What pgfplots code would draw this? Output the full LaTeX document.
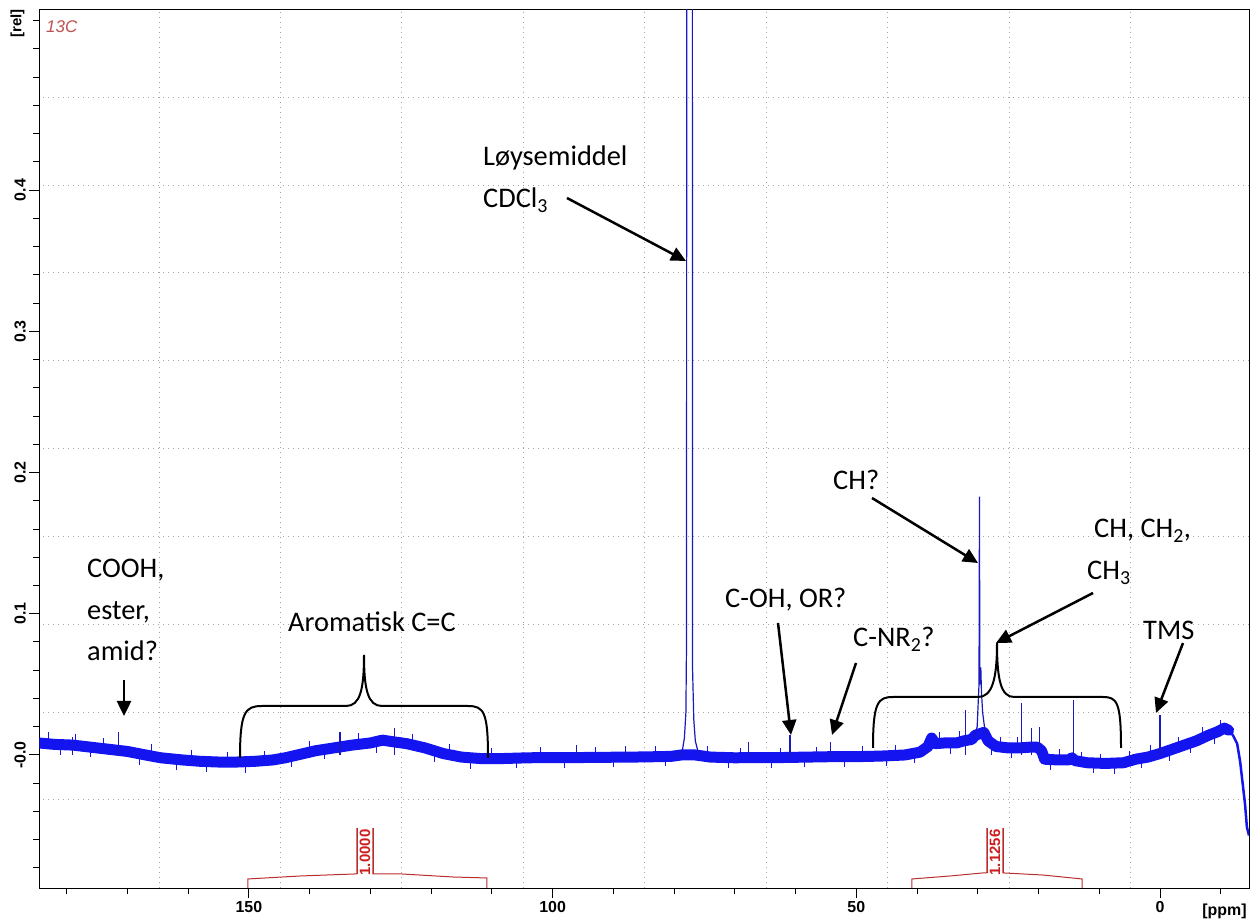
\documentclass[border=0pt]{standalone}
\usepackage{pgfplots}
\pgfplotsset{compat=1.18}
\usepackage{fontspec}
\setmainfont{Carlito}
\newfontfamily\arialf{Liberation Sans}
\usetikzlibrary{arrows.meta}
\definecolor{specblue}{RGB}{20,20,240}
\definecolor{spikeblue}{RGB}{25,25,190}
\definecolor{intred}{RGB}{185,45,45}
\definecolor{labred}{RGB}{205,30,30}
\definecolor{cred}{RGB}{190,80,80}
\definecolor{gridgray}{RGB}{165,165,165}
\begin{document}
\begin{tikzpicture}
\begin{axis}[
  scale only axis, width=1209.7bp, height=878.7bp,
  x dir=reverse, xmin=-14.65, xmax=184.5, ymin=-0.0942, ymax=0.528,
  axis line style={line width=1bp,black},
  tick align=outside, xtick pos=left, ytick pos=left,
  major tick length=10bp, minor tick length=6bp,
  every tick/.style={black, line width=1bp},
  xtick={0,50,100,150}, xticklabels={0,50,100,150},
  minor xtick={-10,0,10,20,30,40,50,60,70,80,90,100,110,120,130,140,150,160,170,180},
  ytick={0,0.1,0.2,0.3,0.4}, yticklabels={-0.0,0.1,0.2,0.3,0.4},
  minor ytick={-0.08,-0.06,-0.04,-0.02,0,0.02,0.04,0.06,0.08,0.1,0.12,0.14,0.16,0.18,0.2,0.22,0.24,0.26,0.28,0.3,0.32,0.34,0.36,0.38,0.4,0.42,0.44,0.46,0.48,0.5,0.52},
  tick label style={font=\arialf\bfseries\fontsize{16}{18}\selectfont},
  yticklabel style={rotate=90, anchor=south},
  xticklabel style={anchor=north},
  extra x ticks={164.8,144.8,124.8,104.8,84.8,64.8,44.8,24.8,4.8},
  extra x tick labels={},
  extra x tick style={grid=major, major tick length=0pt},
  extra y ticks={-0.0318,0.0304,0.0926,0.1548,0.217,0.2792,0.3414,0.4036,0.4658},
  extra y tick labels={},
  extra y tick style={grid=major, major tick length=0pt},
  major grid style={gridgray, line width=0.9bp, dash pattern=on 1bp off 4bp},
  unbounded coords=jump,
]
% baseline (noise band)
\addplot[specblue, line width=11bp, line join=round, line cap=round] coordinates {
(184.6,0.0085)(182,0.0075)(179,0.007)(176,0.0055)(173,0.004)(170,0.0025)(167,0.0)(164.5,-0.002)(161,-0.0035)(158,-0.0045)(155,-0.005)(152,-0.005)(149,-0.0045)(146,-0.0035)(144,-0.002)(141.5,0.0005)(139,0.003)(136,0.005)(133,0.007)(130,0.0085)(128,0.0105)(126.5,0.0095)(124,0.008)(121,0.005)(118,0.001)(115,-0.0015)(112,-0.0025)(108,-0.0025)(104,-0.002)(100,-0.0018)(95,-0.0018)(90,-0.0016)(85,-0.0014)(80.5,-0.001)(78.8,0.0)(76.5,0.0)(74,-0.0015)(70,-0.002)(66,-0.0018)(62,-0.0018)(58,-0.0015)(54,-0.0012)(50,-0.0012)(46,-0.0008)(42,0.0)(39.5,0.002)(38.2,0.006)(37.6,0.012)(37.0,0.008)(35.5,0.0085)(33.5,0.0085)(32.3,0.010)(31.0,0.011)(30.4,0.014)(29.0,0.016)(28.3,0.01)(27,0.006)(25,0.005)(23,0.005)(21.5,0.0055)(20.2,0.0055)(19.5,0.003)(19.0,-0.003)(17,-0.0035)(15,-0.0035)(14.5,-0.002)(14.0,-0.004)(12,-0.0055)(9,-0.006)(6,-0.0055)(4,-0.003)(2,-0.0015)(0,0.001)(-2,0.004)(-4,0.007)(-6,0.010)(-8,0.014)(-9.5,0.0165)(-10.6,0.019)(-11.3,0.0175)};
% tail
\addplot[specblue, line width=2.5bp, line join=round] coordinates {
(-11.3,0.0175)(-12.0,0.014)(-12.7,0.008)(-13.2,-0.005)(-13.6,-0.02)(-14.0,-0.035)(-14.3,-0.051)(-14.65,-0.057)};
% noise sticks above and below the band
\addplot[specblue, line width=0.9bp] coordinates {
(183,0.008)(183,0.016)(183,nan)(181,0.0075)(181,0.0)(181,nan)(178.5,0.0068)(178.5,0.0145)(178.5,nan)
(176,0.0055)(176,-0.0015)(176,nan)(174,0.0045)(174,0.012)(174,nan)(168,0.001)(168,-0.007)(168,nan)
(166,0.0)(166,0.0075)(166,nan)(162,-0.003)(162,-0.0105)(162,nan)(159.5,-0.004)(159.5,0.0035)(159.5,nan)
(157,-0.0045)(157,-0.012)(157,nan)(153.5,-0.005)(153.5,0.002)(153.5,nan)(150.5,-0.005)(150.5,-0.0125)(150.5,nan)
(147.5,-0.004)(147.5,0.003)(147.5,nan)(143,-0.001)(143,-0.0085)(143,nan)(140,0.002)(140,0.010)(140,nan)
(137.5,0.004)(137.5,-0.003)(137.5,nan)(132,0.0075)(132,0.0155)(132,nan)(129,0.0095)(129,0.0015)(129,nan)
(123,0.007)(123,0.015)(123,nan)(119.5,0.003)(119.5,-0.005)(119.5,nan)(117,0.0)(117,0.008)(117,nan)
(113.5,-0.002)(113.5,-0.010)(113.5,nan)(110,-0.0025)(110,0.005)(110,nan)(106,-0.0022)(106,-0.0095)(106,nan)
(102,-0.002)(102,0.0055)(102,nan)(98,-0.0018)(98,-0.009)(98,nan)(93,-0.0017)(93,0.0055)(93,nan)
(90,-0.0016)(90,-0.0085)(90,nan)(83,-0.0012)(83,0.006)(83,nan)(81.5,-0.001)(81.5,-0.008)(81.5,nan)
(74.5,-0.0013)(74.5,0.006)(74.5,nan)(71,-0.002)(71,-0.009)(71,nan)(69,-0.002)(69,0.005)(69,nan)
(64,-0.0018)(64,-0.009)(64,nan)(62.5,-0.0018)(62.5,0.005)(62.5,nan)(58.5,-0.0015)(58.5,-0.0085)(58.5,nan)
(56.5,-0.0014)(56.5,0.0055)(56.5,nan)(52,-0.0012)(52,-0.0085)(52,nan)(49,-0.0012)(49,0.006)(49,nan)
(45,-0.0006)(45,-0.008)(45,nan)(43.5,-0.0003)(43.5,0.007)(43.5,nan)(40.5,0.001)(40.5,-0.006)(40.5,nan)
(36.3,0.008)(36.3,0.016)(36.3,nan)(34.5,0.0085)(34.5,0.001)(34.5,nan)(33,0.0085)(33,0.017)(33,nan)
(27.8,0.008)(27.8,0.0)(27.8,nan)(26.2,0.0055)(26.2,0.013)(26.2,nan)(24.5,0.005)(24.5,-0.002)(24.5,nan)
(23.5,0.005)(23.5,0.013)(23.5,nan)(18,-0.0035)(18,-0.0105)(18,nan)(16.5,-0.0035)(16.5,0.004)(16.5,nan)
(13,-0.005)(13,0.002)(13,nan)(11,-0.0058)(11,-0.013)(11,nan)(9.8,-0.006)(9.8,0.001)(9.8,nan)
(7.5,-0.006)(7.5,-0.0135)(7.5,nan)(5,-0.0045)(5,0.003)(5,nan)(3,-0.0022)(3,-0.0095)(3,nan)
(1.5,-0.001)(1.5,0.007)(1.5,nan)(-1.5,0.003)(-1.5,-0.004)(-1.5,nan)(-3,0.0055)(-3,0.013)(-3,nan)
(-5,0.0085)(-5,0.0015)(-5,nan)(-7,0.012)(-7,0.020)(-7,nan)(-9,0.0155)(-9,0.008)(-9,nan)(-10,0.0175)(-10,0.025)};
% small peaks
\addplot[ycomb, spikeblue, line width=1.2bp] coordinates {
(171.5,0.016)(67.8,0.009)(60.9,0.014)(54.3,0.009)(32.0,0.032)(22.8,0.037)(21.2,0.019)(19.9,0.020)(14.2,0.039)(0.0,0.028)
(179,0.013)(135,0.016)(126,0.019)(96,0.007)(88,0.006)};
% CDCl3
\addplot[spikeblue, line width=1.2bp] coordinates {
(80,-0.001)(79,0.001)(78.6,0.004)(78.3,0.012)(78.05,0.03)(77.95,0.08)(77.9,0.7)(77.0,0.7)(76.95,0.06)(76.75,0.025)(76.5,0.01)(76.1,0.003)(75.5,0.0)};
% 29.7 ppm peak
\addplot[spikeblue, line width=1.2bp] coordinates {
(30.6,0.012)(30.1,0.02)(29.8,0.05)(29.72,0.183)(29.66,0.05)(29.5,0.062)(29.4,0.045)(29.2,0.03)(28.9,0.02)(28.5,0.013)};
% integrals
\addplot[intred, line width=1bp] coordinates {(150.17,-0.0942)(150.17,-0.0878)(141.6,-0.0857)(132.2,-0.0842)(132.2,-0.0517)};
\addplot[intred, line width=1bp] coordinates {(129.6,-0.0517)(129.6,-0.0842)(125.1,-0.0842)(116.4,-0.0864)(110.8,-0.0871)(110.8,-0.0942)};
\addplot[intred, line width=1bp] coordinates {(40.84,-0.0942)(40.84,-0.0878)(34.6,-0.0857)(29.1,-0.0835)(28.49,-0.0835)(28.49,-0.0517)};
\addplot[intred, line width=1bp] coordinates {(25.85,-0.0517)(25.85,-0.0835)(19.3,-0.085)(12.84,-0.0878)(12.84,-0.0942)};
\end{axis}
\begin{scope}[shift={(current axis.north west)}, x=1bp, y=-1bp, shift={(-39.3,-9.3)}]
\coordinate (BL) at (0,921);
\coordinate (TR) at (1256,0);
% labels
\node[anchor=base west, inner sep=0, text=cred, font=\arialf\itshape\fontsize{17}{20}\selectfont] at (46,33) {13C};
\node[rotate=90, inner sep=0, font=\arialf\bfseries\fontsize{15}{17}\selectfont] at (17.5,23.5) {[rel]};
\node[anchor=base, inner sep=0, font=\arialf\bfseries\fontsize{16}{18}\selectfont] at (1224.5,916) {[ppm]};
\node[rotate=90, inner sep=0, text=labred, font=\arialf\bfseries\fontsize{15}{17}\selectfont] at (365,852.5) {1.0000};
\node[rotate=90, inner sep=0, text=labred, font=\arialf\bfseries\fontsize{15}{17}\selectfont] at (995,852.5) {1.1256};
% annotations
\begin{scope}[every node/.style={anchor=base west, inner sep=0, font=\fontsize{28.5}{33}\selectfont}]
\node at (483,166) {Løysemiddel};
\node at (483,208) {CDCl\textsubscript{3}};
\node at (87,578) {COOH,};
\node at (87,620) {ester,};
\node at (87,661) {amid?};
\node at (288,632) {Aromatisk C=C};
\node at (833,490) {CH?};
\node at (1094,538) {CH, CH\textsubscript{2},};
\node at (1087,580) {CH\textsubscript{3}};
\node at (1143,640) {TMS};
\node at (725,608) {C-OH, OR?};
\node at (853,647) {C-NR\textsubscript{2}?};
\end{scope}
\begin{scope}[line width=2.5bp, -{Triangle[length=15bp,width=14bp]}]
\draw (124,680) -- (124,716);
\draw (567,198) -- (686,261);
\draw (872,498) -- (978,563);
\draw (1093,593) -- (996,643);
\draw (1183,643) -- (1156,713);
\draw (778,623) -- (791,735);
\draw (856,663) -- (832,735);
\end{scope}
\begin{scope}[line width=2bp]
\draw (240,758) .. controls (240,712) and (245,706) .. (262,706) -- (346,706)
  .. controls (360,706) and (364,690) .. (364,655)
  .. controls (364,690) and (368,706) .. (382,706) -- (468,706)
  .. controls (484,706) and (488,712) .. (488,758);
\draw (873,748) .. controls (873,702) and (878,697) .. (893,697) -- (978,697)
  .. controls (992,697) and (997,680) .. (997,643)
  .. controls (997,680) and (1001,697) .. (1014,697) -- (1103,697)
  .. controls (1117,697) and (1121,702) .. (1121,748);
\end{scope}
\draw[intred, line width=1bp] (357,874) -- (357,828) (373,874) -- (373,828);
\draw[intred, line width=1bp] (987,873) -- (987,828) (1003,873) -- (1003,828);
\end{scope}
\pgfresetboundingbox
\path (BL) rectangle (TR);
\end{tikzpicture}
\end{document}
